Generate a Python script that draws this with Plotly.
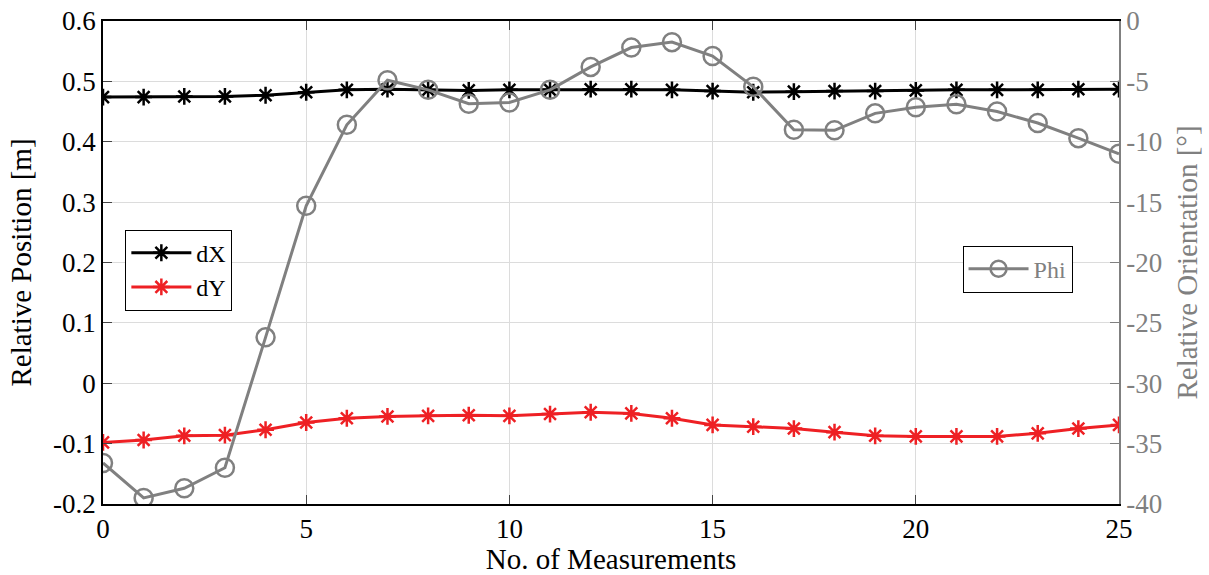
import plotly.graph_objects as go

x_meas = list(range(26))
dX = [0.474, 0.474, 0.475, 0.475, 0.477, 0.482, 0.486, 0.487, 0.486, 0.485,
      0.486, 0.486, 0.487, 0.487, 0.486, 0.484, 0.482, 0.483, 0.484, 0.484,
      0.485, 0.486, 0.486, 0.486, 0.487, 0.487]
dY = [-0.098, -0.094, -0.087, -0.086, -0.077, -0.065, -0.058, -0.055, -0.054, -0.053,
      -0.054, -0.051, -0.048, -0.050, -0.058, -0.069, -0.072, -0.075, -0.081, -0.087,
      -0.088, -0.088, -0.088, -0.083, -0.075, -0.069]
phi = [-36.6, -39.5, -38.7, -37.0, -26.2, -15.3, -8.6, -4.9, -5.7, -6.85,
       -6.75, -5.7, -3.8, -2.2, -1.75, -2.9, -5.45, -9.0, -9.05, -7.65,
       -7.15, -6.9, -7.5, -8.45, -9.7, -11.0]

x_ticks = [0, 5, 10, 15, 20, 25]
y_ticks = [-0.2, -0.1, 0, 0.1, 0.2, 0.3, 0.4, 0.5, 0.6]
y_ticktext = ["-0.2", "-0.1", "0", "0.1", "0.2", "0.3", "0.4", "0.5", "0.6"]
y2_ticks = [-40, -35, -30, -25, -20, -15, -10, -5, 0]
y2_ticktext = ["-40", "-35", "-30", "-25", "-20", "-15", "-10", "-5", "0"]

FONT = "Liberation Serif"
GREY = "#808080"
RED = "#ee2024"

fig = go.Figure()
fig.add_trace(go.Scatter(
    x=x_meas, y=dX, name="dX", mode="lines+markers",
    line=dict(color="black", width=3),
    marker=dict(symbol="asterisk-open", size=14, line=dict(color="black", width=2.5)),
    legend="legend"))
fig.add_trace(go.Scatter(
    x=x_meas, y=dY, name="dY", mode="lines+markers",
    line=dict(color=RED, width=3),
    marker=dict(symbol="asterisk-open", size=14, line=dict(color=RED, width=2.5)),
    legend="legend"))
fig.add_trace(go.Scatter(
    x=x_meas, y=phi, name="Phi", mode="lines+markers", yaxis="y2",
    line=dict(color=GREY, width=3),
    marker=dict(symbol="circle-open", size=18, line=dict(color=GREY, width=2.5)),
    legend="legend2"))

fig.update_layout(
    width=1209, height=575,
    margin=dict(l=103, r=90, t=21, b=71),
    paper_bgcolor="white", plot_bgcolor="white",
    font=dict(family=FONT, size=26, color="black"),
    xaxis=dict(range=[0, 25], tickvals=x_ticks, ticks="inside", ticklen=9,
               showline=True, linecolor="black", linewidth=1.5, mirror="ticks",
               showgrid=True, gridcolor="#dcdcdc", zeroline=False, automargin=False,
               ticklabeloverflow="allow",
               title=dict(text="No. of Measurements", standoff=14, font=dict(size=29)),
               tickfont=dict(size=27)),
    yaxis=dict(range=[-0.2, 0.6], tickvals=y_ticks, ticktext=y_ticktext,
               ticks="inside", ticklen=9, showline=True, linecolor="black", linewidth=1.5,
               showgrid=True, gridcolor="#dcdcdc", zeroline=False, automargin=False,
               ticklabeloverflow="allow",
               title=dict(text="Relative Position [m]", standoff=13, font=dict(size=29)),
               tickfont=dict(size=27)),
    yaxis2=dict(range=[-40, 0], tickvals=y2_ticks, ticktext=y2_ticktext,
                overlaying="y", side="right", ticks="inside", ticklen=9,
                showline=True, linecolor=GREY, linewidth=1.5, showgrid=False, zeroline=False,
                automargin=False, ticklabeloverflow="allow",
                color=GREY, tickfont=dict(size=27, color=GREY),
                title=dict(text="Relative Orientation [°]", font=dict(color=GREY, size=29),
                           standoff=16)),
    legend=dict(x=0.022, y=0.568, xanchor="left", yanchor="top",
                bgcolor="white", bordercolor="black", borderwidth=1,
                font=dict(size=24), itemwidth=60, tracegroupgap=0),
    legend2=dict(x=0.846, y=0.535, xanchor="left", yanchor="top",
                 bgcolor="white", bordercolor="black", borderwidth=1,
                 font=dict(size=24, color=GREY), itemwidth=60),
    showlegend=True,
)

fig.write_html("out.html", config={"displayModeBar": False},
               post_script="document.body.style.margin='0';document.body.style.overflow='hidden';")
